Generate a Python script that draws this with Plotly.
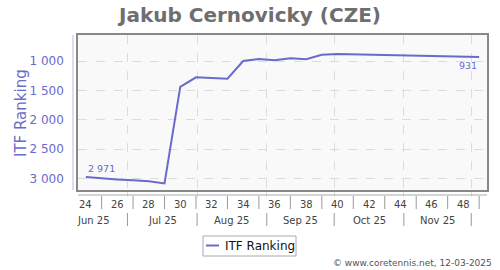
import datetime as dt
import plotly.graph_objects as go

# ---------------- data ----------------
weeks = list(range(24, 50))
ranking = [2971, 2995, 3012, 3025, 3045, 3080, 1440, 1277, 1289, 1300,
           1000, 966, 985, 954, 971, 893, 881, 886, 893, 898,
           903, 910, 915, 923, 927, 931]
week_labels = [24, 26, 28, 30, 32, 34, 36, 38, 40, 42, 44, 46, 48]
month_labels = ["Jun 25", "Jul 25", "Aug 25", "Sep 25", "Oct 25", "Nov 25"]
month_starts = ["2025-06-01", "2025-07-01", "2025-08-01", "2025-09-01",
                "2025-10-01", "2025-11-01", "2025-12-01"]
y_ticks = [1000, 1500, 2000, 2500, 3000]
title = "Jakub Cernovicky (CZE)"
series_name = "ITF Ranking"
credit = "© www.coretennis.net, 12-03-2025"

# ---------------- helpers ----------------
W, H = 500, 270
L, R, T, B = 78, 13, 35, 80
PW, PH = W - L - R, H - T - B


def px(x):
    return (x - L) / PW


def py(y):
    return (T + PH - y) / PH


def week_mid(w):
    return dt.datetime.fromisocalendar(2025, w, 1) + dt.timedelta(days=3.5)


def fmt(v):
    return f"{v:,}".replace(",", " ")


dates = [week_mid(w) for w in weeks]
x_range = [dt.datetime.fromisocalendar(2025, weeks[0], 1),
           dt.datetime.fromisocalendar(2025, weeks[-1] + 1, 1)]

BLUE = "#6a6acc"
FONT = "DejaVu Sans"

fig = go.Figure()
fig.add_trace(go.Scatter(x=dates, y=ranking, mode="lines", name=series_name,
                         line=dict(color=BLUE, width=2), showlegend=False))

shapes = []
annotations = []

# week labels and separators
for w in week_labels:
    annotations.append(dict(x=week_mid(w), xref="x", y=py(204), yref="paper",
                            text=str(w), showarrow=False, yanchor="middle",
                            font=dict(family=FONT, size=10, color="#444")))
for w in weeks:
    if w % 2 == 1:
        shapes.append(dict(type="line", xref="x", yref="paper",
                           x0=week_mid(w), x1=week_mid(w), y0=py(196), y1=py(209),
                           line=dict(color="#999", width=1)))

# month labels and separators
ms = [dt.datetime.fromisoformat(m) for m in month_starts]
for i, lab in enumerate(month_labels):
    mid = ms[i] + (ms[i + 1] - ms[i]) / 2
    annotations.append(dict(x=mid, xref="x", y=py(220.5), yref="paper",
                            text=lab, showarrow=False, yanchor="middle",
                            font=dict(family=FONT, size=10, color="#444")))
for m in ms[1:]:
    shapes.append(dict(type="line", xref="x", yref="paper", x0=m, x1=m,
                       y0=py(213), y1=py(226), line=dict(color="#999", width=1)))

# extra axis lines
shapes.append(dict(type="line", xref="paper", yref="paper", x0=px(73), x1=px(73),
                   y0=1, y1=0, line=dict(color="#b8b8e6", width=1)))
shapes.append(dict(type="line", xref="paper", yref="paper", x0=0, x1=1,
                   y0=py(195), y1=py(195), line=dict(color="#aaa", width=1)))

# data labels
annotations.append(dict(x=dates[0], y=ranking[0], xref="x", yref="y",
                        text=fmt(ranking[0]), showarrow=False, xanchor="left",
                        yanchor="bottom", yshift=1,
                        font=dict(family=FONT, size=9.5, color=BLUE)))
annotations.append(dict(x=dates[-1], y=ranking[-1], xref="x", yref="y",
                        text=fmt(ranking[-1]), showarrow=False, xanchor="right",
                        yanchor="top", yshift=-1,
                        font=dict(family=FONT, size=9.5, color=BLUE)))

# y-axis title
annotations.append(dict(x=px(20.5), y=0.5, xref="paper", yref="paper",
                        text=series_name, textangle=-90, showarrow=False,
                        xanchor="center", yanchor="middle",
                        font=dict(family=FONT, size=15, color=BLUE)))

# manual legend
shapes.append(dict(type="rect", xref="paper", yref="paper",
                   x0=px(203), x1=px(296), y0=py(236), y1=py(256),
                   line=dict(color="#aaa", width=1), fillcolor="white"))
shapes.append(dict(type="line", xref="paper", yref="paper",
                   x0=px(206), x1=px(219), y0=py(245.5), y1=py(245.5),
                   line=dict(color=BLUE, width=2)))
annotations.append(dict(x=px(223), y=py(245.5), xref="paper", yref="paper",
                        text=series_name, showarrow=False, xanchor="left",
                        yanchor="middle",
                        font=dict(family=FONT, size=12, color="#111")))

# credit
annotations.append(dict(x=px(494), y=py(263), xref="paper", yref="paper",
                        text=credit, showarrow=False, xanchor="right",
                        yanchor="middle",
                        font=dict(family=FONT, size=9, color="#555")))

fig.update_layout(
    width=W, height=H,
    margin=dict(l=L, r=R, t=T, b=B, pad=0),
    paper_bgcolor="white",
    plot_bgcolor="#f9f9f9",
    title=dict(text=title, x=0.5, xanchor="center", y=1 - 15 / H,
               yanchor="middle", yref="container",
               font=dict(family=FONT, size=20, color="#6e6e6e", weight="bold")),
    xaxis=dict(type="date", range=x_range, tickvals=ms[1:],
               showticklabels=False, showgrid=True, gridcolor="#dcdcdc",
               griddash="dash", gridwidth=1, ticks="outside", ticklen=5,
               tickcolor="#dcdcdc", showline=True, mirror=True,
               linecolor="#888", linewidth=1.5, zeroline=False),
    yaxis=dict(range=[3192, 558], tickvals=y_ticks,
               ticktext=[fmt(v) for v in y_ticks],
               showgrid=True, gridcolor="#dcdcdc", griddash="dash",
               ticks="", ticklabelstandoff=10,
               tickfont=dict(family=FONT, size=12, color=BLUE),
               showline=True, mirror=True, linecolor="#888", linewidth=1.5,
               zeroline=False),
    shapes=shapes,
    annotations=annotations,
    showlegend=False,
)

fig.write_html("out.html")
